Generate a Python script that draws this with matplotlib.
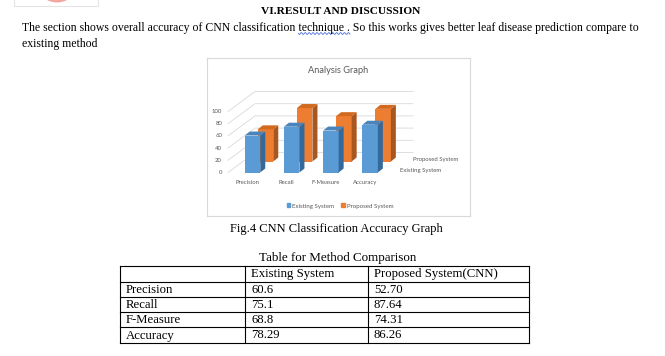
import numpy as np
import matplotlib.pyplot as plt
from matplotlib.patches import Polygon, Rectangle, Ellipse

# ---- data -------------------------------------------------------------
metrics = ["Precision", "Recall", "F-Measure", "Accuracy"]
existing = [60.6, 75.1, 68.8, 78.29]
proposed = [52.70, 87.64, 74.31, 86.26]
existing_txt = ["60.6", "75.1", "68.8", "78.29"]
proposed_txt = ["52.70", "87.64", "74.31", "86.26"]
series_names = ["Existing System", "Proposed System"]
table_header = ["", "Existing System", "Proposed System(CNN)"]
y_ticks = [0, 20, 40, 60, 80, 100]

heading = "VI.RESULT AND DISCUSSION"
body_pre = "The section shows overall accuracy of CNN classification "
body_word = "technique"
body_post = " . So this works gives better leaf disease prediction compare to"
body_line2 = "existing method"
caption = "Fig.4 CNN Classification Accuracy Graph"
table_title = "Table for Method Comparison"

W, H = 665, 356
SERIF = "Liberation Serif"
SANS = "Lato"
GRAY = "#595959"
FS = 8.5

fig = plt.figure(figsize=(W / 100, H / 100), dpi=100)

# page layer in pixel coordinates (y grows downwards)
page = fig.add_axes([0, 0, 1, 1])
page.set_xlim(0, W)
page.set_ylim(H, 0)
page.axis("off")

# remains of the logo cut at the top edge
page.add_patch(Ellipse((57, -6), 28, 17, color="#f2a7a1", lw=0))
page.add_patch(Rectangle((14, -2), 83.5, 8, fill=False, ec="#e4e4e4", lw=0.8))

page.text(341, 12, heading, ha="center", va="center", fontsize=8.2,
          fontweight="bold", family=SERIF)
page.text(22, 28, body_pre + body_word + body_post, ha="left", va="center",
          fontsize=FS, family=SERIF)
page.text(22, 44, body_line2, ha="left", va="center", fontsize=FS, family=SERIF)

# spell-check squiggle under the word "technique"
fig.canvas.draw()
rend = fig.canvas.get_renderer()
tmp = page.text(22, 28, body_pre + body_word, ha="left", va="center", fontsize=FS, family=SERIF)
x_end = tmp.get_window_extent(rend).x1
tmp.remove()
tmp = page.text(0, 28, body_word, ha="left", va="center", fontsize=FS, family=SERIF)
w_word = tmp.get_window_extent(rend).width
tmp.remove()
sx = np.linspace(x_end - w_word, x_end + 6, 120)
page.plot(sx, 33.5 + 0.9 * np.sin((sx - sx[0]) * 1.6), color="#4a6fd8", lw=0.6)

page.text(336, 229, caption, ha="center", va="center", fontsize=9.0, family=SERIF)
page.text(338, 258, table_title, ha="center", va="center", fontsize=9.4, family=SERIF)

# ---- table ----------------------------------------------------------------
cols = [120, 245, 368, 529]
rows = [266, 282, 297, 312, 327, 343]
for yy in rows:
    page.plot([cols[0], cols[-1]], [yy, yy], color="black", lw=0.8)
for xx in cols:
    page.plot([xx, xx], [rows[0], rows[-1]], color="black", lw=0.8)
cells = [table_header] + [[m, e, p] for m, e, p in zip(metrics, existing_txt, proposed_txt)]
for r, line in enumerate(cells):
    for c, txt in enumerate(line):
        page.text(cols[c] + 6, (rows[r] + rows[r + 1]) / 2 + 0.5, txt, ha="left",
                  va="center", fontsize=9.2, family=SERIF)

# ---- 3-D style column chart -----------------------------------------------
ax = fig.add_axes([207 / W, 1 - 216 / H, 263 / W, 158 / H])
px_x, px_y = 39.2, 0.61          # pixels per category / per value unit
ax.set_xlim((207 - 252.5) / px_x, (470 - 252.5) / px_x)
ax.set_ylim(-(216 - 172.5) / px_y, (172.5 - 58) / px_y)
ax.set_xticks([])
ax.set_yticks([])
for s in ax.spines.values():
    s.set_color("#d9d9d9")
    s.set_linewidth(0.8)

wall = (27 / px_x, 20 / px_y)     # floor depth up to back wall
row = (13 / px_x, 11 / px_y)      # shift of the second series row
deep = (5 / px_x, 4 / px_y)       # bar thickness
bw = 15.5 / px_x
xw0, xw1 = (228 - 252.5) / px_x, (413 - 252.5) / px_x

for v in y_ticks:
    ax.plot([xw0, xw0 + wall[0], xw1], [v, v + wall[1], v + wall[1]],
            color="#d9d9d9", lw=0.6, zorder=1)
    ax.text(xw0 - 6 / px_x, v, str(v), ha="right", va="center", fontsize=4.3,
            color=GRAY, family=SANS)


def bars3d(vals, r, front, side, top, z):
    dx, dy = r * row[0], r * row[1]
    xs = np.arange(len(vals)) + dx
    ax.bar(xs, vals, width=bw, bottom=dy, color=front, zorder=z)
    for x, v in zip(xs, vals):
        xl, xr = x - bw / 2, x + bw / 2
        ax.add_patch(Polygon([(xr, dy), (xr + deep[0], dy + deep[1]),
                              (xr + deep[0], dy + v + deep[1]), (xr, dy + v)],
                             closed=True, color=side, lw=0, zorder=z))
        ax.add_patch(Polygon([(xl, dy + v), (xr, dy + v),
                              (xr + deep[0], dy + v + deep[1]),
                              (xl + deep[0], dy + v + deep[1])],
                             closed=True, color=top, lw=0, zorder=z))


bars3d(proposed, 1, "#ed7d31", "#a9561f", "#d2691f", 2)
bars3d(existing, 0, "#5b9bd5", "#34699c", "#4a84bd", 4)

for i, m in enumerate(metrics):
    ax.text(i - 0.13, -17, m, ha="center", va="center", fontsize=4.3, color=GRAY, family=SANS)
for r, name in enumerate(series_names):
    ax.text(3.76 + r * row[0], 2.5 + r * 19.5, name, ha="left", va="center",
            fontsize=4.3, color=GRAY, family=SANS)

ax.text(0.498, 0.924, "Analysis Graph", transform=ax.transAxes, ha="center",
        va="center", fontsize=6.7, color=GRAY, family=SANS)
handles = [Rectangle((0, 0), 1, 1, color="#5b9bd5"), Rectangle((0, 0), 1, 1, color="#ed7d31")]
ax.legend(handles, series_names, loc="center", bbox_to_anchor=(0.506, 0.063), ncol=2,
          frameon=False, handlelength=0.6, handleheight=0.6, handletextpad=0.3,
          columnspacing=1.2, labelcolor=GRAY, prop={"family": SANS, "size": 4.4})

fig.savefig("out.png", dpi=100)
